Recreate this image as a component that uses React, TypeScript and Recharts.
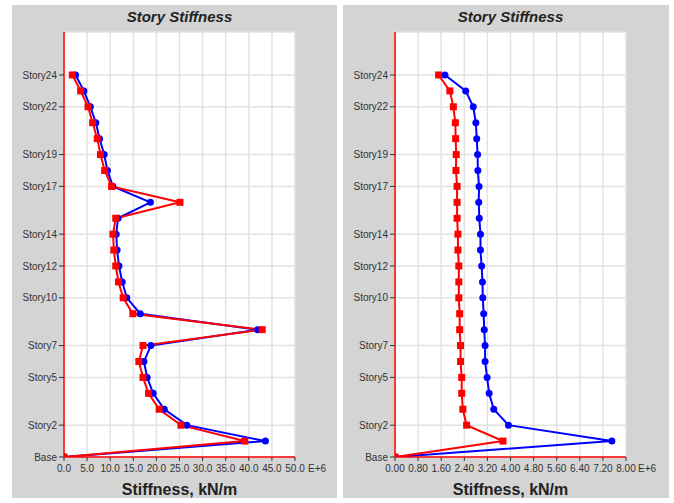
import React from 'react';
import { LineChart, Line, XAxis, YAxis, CartesianGrid } from 'recharts';

const storyNames = [
  'Base', 'Story1', 'Story2', 'Story3', 'Story4', 'Story5', 'Story6', 'Story7', 'Story8',
  'Story9', 'Story10', 'Story11', 'Story12', 'Story13', 'Story14', 'Story15', 'Story16',
  'Story17', 'Story18', 'Story19', 'Story20', 'Story21', 'Story22', 'Story23', 'Story24',
];
const storyTickLevels = [0, 2, 5, 7, 10, 12, 14, 17, 19, 22, 24];

// Left panel (E+6 kN/m)
const leftBlue = [0, 43.6, 26.6, 21.7, 19.3, 18.0, 17.3, 18.8, 41.9, 16.5, 13.6, 12.6, 11.9, 11.5, 11.3, 11.7, 18.7, 10.6, 9.4, 8.7, 7.7, 6.9, 5.7, 4.3, 2.5];
const leftRed = [0, 39.1, 25.3, 20.6, 18.3, 17.1, 16.2, 17.1, 42.9, 14.9, 12.8, 11.8, 11.2, 10.8, 10.6, 11.2, 25.1, 10.3, 8.8, 7.9, 7.2, 6.2, 5.2, 3.6, 1.8];
const leftTicks = [0, 5, 10, 15, 20, 25, 30, 35, 40, 45, 50];

// Right panel (E+6 kN/m)
const rightBlue = [0, 7.51, 3.93, 3.42, 3.26, 3.19, 3.12, 3.12, 3.09, 3.07, 3.04, 3.03, 3.0, 2.96, 2.96, 2.92, 2.90, 2.91, 2.87, 2.86, 2.83, 2.80, 2.71, 2.45, 1.73];
const rightRed = [0, 3.74, 2.48, 2.35, 2.31, 2.31, 2.27, 2.27, 2.24, 2.24, 2.21, 2.21, 2.21, 2.18, 2.18, 2.15, 2.15, 2.15, 2.11, 2.12, 2.10, 2.09, 2.02, 1.90, 1.51];
const rightTicks = [0, 0.8, 1.6, 2.4, 3.2, 4.0, 4.8, 5.6, 6.4, 7.2, 8.0];

const FONT = '"Liberation Sans", Arial, sans-serif';
const PANEL_BG = '#d4d4d4';
const TEXT = '#333333';

const buildRows = (blue: number[], red: number[]) =>
  storyNames.map((name, i) => ({ level: i, name, blue: blue[i], red: red[i] }));

const makeXTick = (last: number, digits: number, expOffset: number) => (props: any) => {
  const { x, y, payload } = props;
  const v = Number(payload.value);
  return (
    <g>
      <text x={x} y={y} dy="0.71em" textAnchor="middle" fontSize={10} fill={TEXT} fontFamily={FONT}>
        {v.toFixed(digits)}
      </text>
      {Math.abs(v - last) < 1e-9 && (
        <text x={x + expOffset} y={y} dy="0.71em" textAnchor="start" fontSize={10} fill={TEXT} fontFamily={FONT}>
          E+6
        </text>
      )}
    </g>
  );
};

const squareDot = (props: any) => {
  const { cx, cy, index } = props;
  if (cx == null || cy == null) return <g key={`s${index}`} />;
  return <rect key={`s${index}`} x={cx - 3.5} y={cy - 3.5} width={7} height={7} fill="#ff0000" />;
};

const circleDot = (props: any) => {
  const { cx, cy, index } = props;
  if (cx == null || cy == null) return <g key={`c${index}`} />;
  return <circle key={`c${index}`} cx={cx} cy={cy} r={3.5} fill="#0000ff" />;
};

type PanelProps = {
  left: number;
  width: number;
  blue: number[];
  red: number[];
  ticks: number[];
  digits: number;
  expOffset: number;
  plotLeft: number;
  plotRight: number;
};

const Panel = ({ left, width, blue, red, ticks, digits, expOffset, plotLeft, plotRight }: PanelProps) => {
  const rows = buildRows(blue, red);
  const xMax = ticks[ticks.length - 1];
  const chartH = 493;
  const plotCenter = (plotLeft + plotRight) / 2;
  return (
    <div style={{ position: 'absolute', left, top: 5, width, height: chartH, background: PANEL_BG }}>
      <div
        style={{
          position: 'absolute', left: plotCenter - 100, width: 200, top: 3, textAlign: 'center',
          fontFamily: FONT, fontWeight: 'bold', fontStyle: 'italic', fontSize: 15, color: '#222',
        }}
      >
        Story Stiffness
      </div>
      <LineChart
        width={width}
        height={chartH}
        layout="vertical"
        data={rows}
        margin={{ top: 27, right: width - plotRight, bottom: 0, left: 0 }}
      >
        <CartesianGrid fill="#ffffff" stroke="#e2e2e2" strokeWidth={1.5} />
        <XAxis
          type="number"
          domain={[0, xMax]}
          ticks={ticks}
          interval={0}
          allowDataOverflow
          height={41}
          tickSize={4}
          tickMargin={4}
          axisLine={{ stroke: '#ff0000', strokeWidth: 1.5 }}
          tickLine={{ stroke: '#333333' }}
          tick={makeXTick(xMax, digits, expOffset)}
        />
        <YAxis
          type="number"
          dataKey="level"
          domain={[0, 26.7]}
          ticks={storyTickLevels}
          interval={0}
          allowDataOverflow
          reversed
          width={plotLeft}
          tickSize={5}
          tickMargin={2}
          axisLine={{ stroke: '#ff0000', strokeWidth: 1.5 }}
          tickLine={{ stroke: '#333333' }}
          tick={{ fontSize: 10, fill: TEXT, fontFamily: FONT }}
          tickFormatter={(v: number) => storyNames[v]}
        />
        <Line
          dataKey="blue"
          stroke="#0000ff"
          strokeWidth={2}
          dot={circleDot}
          isAnimationActive={false}
        />
        <Line
          dataKey="red"
          stroke="#ff0000"
          strokeWidth={2}
          dot={squareDot}
          isAnimationActive={false}
        />
      </LineChart>
      <div
        style={{
          position: 'absolute', left: plotCenter - 100, width: 200, top: 476, textAlign: 'center',
          fontFamily: FONT, fontWeight: 'bold', fontSize: 16, color: '#222',
        }}
      >
        Stiffness, kN/m
      </div>
    </div>
  );
}
;

export default function App() {
  return (
    <div style={{ position: 'absolute', left: 0, top: 0, width: 674, height: 503, background: '#ffffff', overflow: 'hidden' }}>
      <Panel left={12} width={325} blue={leftBlue} red={leftRed} ticks={leftTicks} digits={1} expOffset={13} plotLeft={52} plotRight={283} />
      <Panel left={343} width={326} blue={rightBlue} red={rightRed} ticks={rightTicks} digits={2} expOffset={12} plotLeft={52} plotRight={283} />
    </div>
  );
}
